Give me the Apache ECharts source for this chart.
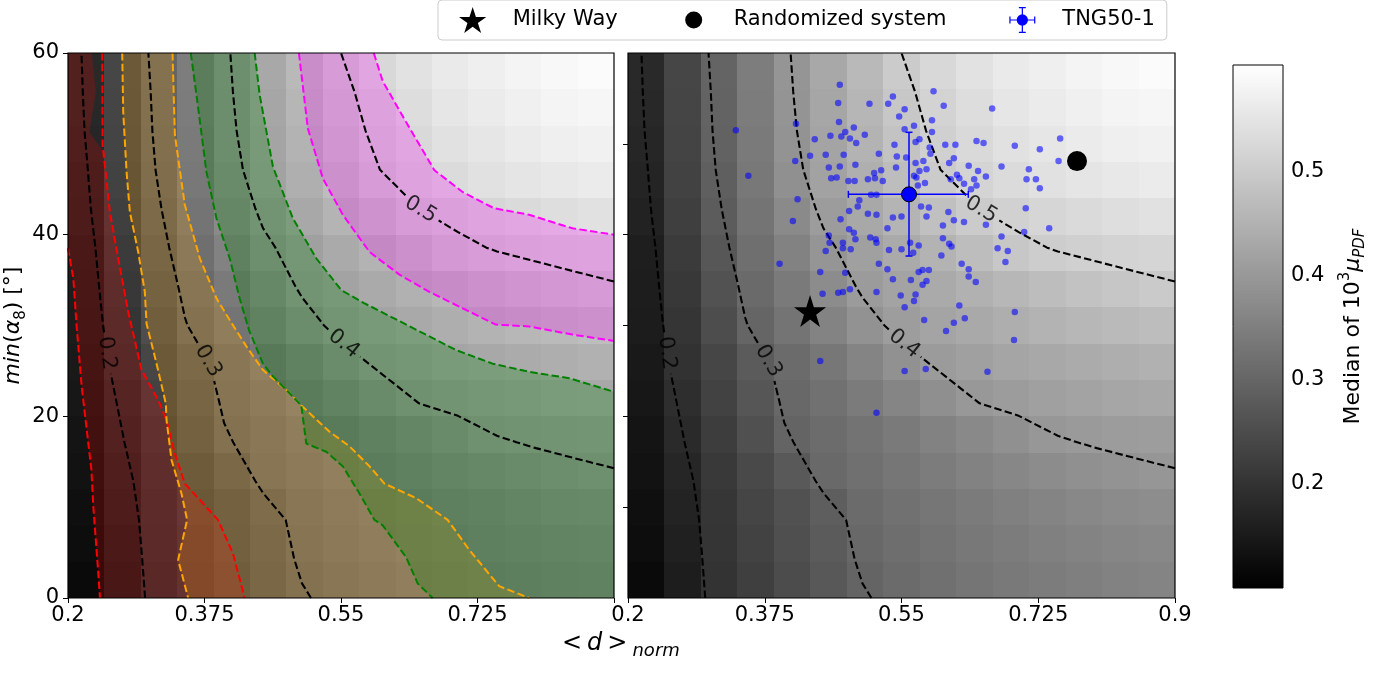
<!DOCTYPE html>
<html><head><meta charset="utf-8">
<script src="https://cdn.jsdelivr.net/npm/echarts@6/dist/echarts.min.js"></script>
<style>html,body{margin:0;padding:0;background:#fff}#c{width:1390px;height:673px}</style>
</head><body><div id="c"></div>
<script>
// ---------------- data ----------------
const dNormRange = [0.2, 0.9];
const alphaRange = [0, 60];
const xTickValues = [0.2, 0.375, 0.55, 0.725, 0.9];
const xTickLabelsLeft = [0.2, 0.375, 0.55, 0.725];
const yTickValuesLeft = [0, 20, 40, 60];
const yTickValuesRight = [10, 20, 30, 40, 50];
const colorRange = [0.1, 0.602];
const colorTicks = [0.2, 0.3, 0.4, 0.5];
const contourLevels = [0.2, 0.3, 0.4, 0.5];
const contourLabelAnchors = [[0.253, 27.0], [0.374, 25.8], [0.55, 27.6], [0.651, 42.6]];

// median of 10^3 mu_PDF, rows bottom (alpha=0) -> top (alpha=60), columns d=0.2 -> 0.9
const medianGrid = [
 [0.120,0.158,0.201,0.225,0.249,0.273,0.297,0.310,0.320,0.330,0.338,0.345,0.350,0.355,0.360],
 [0.125,0.163,0.204,0.230,0.255,0.280,0.305,0.316,0.327,0.337,0.345,0.352,0.358,0.363,0.367],
 [0.130,0.168,0.207,0.236,0.260,0.286,0.310,0.322,0.333,0.343,0.352,0.360,0.367,0.373,0.378],
 [0.135,0.175,0.212,0.244,0.275,0.306,0.320,0.333,0.345,0.356,0.366,0.375,0.383,0.390,0.395],
 [0.140,0.183,0.221,0.258,0.296,0.313,0.327,0.341,0.355,0.369,0.383,0.397,0.403,0.407,0.410],
 [0.145,0.190,0.230,0.269,0.304,0.323,0.342,0.362,0.381,0.400,0.408,0.415,0.421,0.426,0.430],
 [0.150,0.198,0.238,0.280,0.311,0.335,0.360,0.386,0.405,0.415,0.424,0.431,0.437,0.443,0.448],
 [0.155,0.205,0.252,0.298,0.329,0.357,0.387,0.410,0.422,0.433,0.443,0.452,0.460,0.467,0.473],
 [0.157,0.211,0.262,0.308,0.341,0.375,0.405,0.420,0.435,0.448,0.460,0.472,0.482,0.490,0.497],
 [0.160,0.217,0.272,0.319,0.356,0.393,0.415,0.434,0.453,0.472,0.492,0.503,0.510,0.516,0.520],
 [0.166,0.224,0.281,0.329,0.371,0.407,0.431,0.454,0.477,0.500,0.512,0.522,0.530,0.537,0.543],
 [0.170,0.229,0.288,0.337,0.383,0.418,0.445,0.473,0.500,0.518,0.532,0.542,0.550,0.556,0.562],
 [0.175,0.234,0.292,0.341,0.389,0.423,0.453,0.483,0.510,0.528,0.543,0.553,0.562,0.570,0.575],
 [0.178,0.236,0.294,0.344,0.392,0.427,0.459,0.492,0.515,0.535,0.552,0.563,0.572,0.580,0.585],
 [0.180,0.238,0.297,0.346,0.394,0.431,0.465,0.500,0.525,0.545,0.560,0.570,0.580,0.588,0.595]
];

// coloured bands (left panel), boundaries as [d, alpha]
const redLeft = [[0.2,38.5],[0.2068,35.2],[0.211,30.0],[0.2175,23.3],[0.230,14.1],[0.2324,10.1],[0.2388,2.75],[0.241,0]];
const redRight = [[0.2439,60],[0.2444,49.9],[0.2537,42.5],[0.2644,37.4],[0.2772,31.5],[0.2943,25.1],[0.3156,21.8],[0.3263,19.6],[0.337,15.9],[0.3497,12.6],[0.369,10.8],[0.3923,8.6],[0.4115,4.9],[0.4265,0]];
const redTopGap = [[0.2303,60],[0.2358,55.7],[0.2273,51.3],[0.2446,49.2]];
const orangeLeft = [[0.2695,60],[0.2708,53.5],[0.2751,46.9],[0.2793,42.5],[0.29,38.1],[0.2985,33.7],[0.3007,30.2],[0.3135,25.8],[0.3254,21.4],[0.3263,19.6],[0.3327,15.2],[0.3455,11.5],[0.3527,8.6],[0.3412,4.2],[0.354,0]];
const orangeRight = [[0.334,60],[0.337,51.0],[0.3497,43.3],[0.369,37.4],[0.3903,33.0],[0.4073,30.6],[0.4287,27.7],[0.4499,25.1],[0.4799,22.9],[0.4991,21.2],[0.5353,18.3],[0.5609,16.7],[0.5865,14.5],[0.6057,12.6],[0.6462,11.0],[0.6867,8.6],[0.7144,5.3],[0.7528,1.3],[0.7912,0]];
const greenLeft = [[0.3574,60],[0.3647,55.4],[0.3775,46.9],[0.3903,41.8],[0.4073,37.4],[0.42,33.0],[0.432,29.5],[0.4499,25.8],[0.4627,24.4],[0.4799,22.9],[0.4991,21.2],[0.5055,17.0],[0.5311,16.1],[0.5523,14.5],[0.5737,11.5],[0.5929,8.6],[0.6035,8.0],[0.6334,4.5],[0.6483,1.6],[0.6675,0]];
const greenRight = [[0.4393,60],[0.4457,55.4],[0.4627,47.5],[0.4883,41.8],[0.5183,37.4],[0.5503,33.9],[0.5788,32.5],[0.6313,30.2],[0.6633,28.8],[0.6974,27.3],[0.7443,25.8],[0.7912,24.9],[0.8424,24.2],[0.9,22.7]];
const magentaLeft = [[0.496,60],[0.5075,51.7],[0.5267,46.2],[0.5523,42.2],[0.5865,38.1],[0.6249,35.6],[0.6633,33.7],[0.7059,31.9],[0.7486,30.1],[0.7912,29.9],[0.8467,29.0],[0.9,28.3]];
const magentaRight = [[0.592,60],[0.6035,56.9],[0.6334,52.4],[0.6697,47.1],[0.7059,44.7],[0.7464,42.9],[0.7912,42.2],[0.8467,40.7],[0.9,40.0]];

// right panel points
const tngSampleX = [0.471,0.591,0.539,0.469,0.509,0.533,0.554,0.604,0.666,0.547,0.589,0.470,0.415,0.566,0.489,0.478,0.554,0.589,0.338,0.459,0.473,0.503,0.439,0.484,0.568,0.573,0.753,0.492,0.541,0.606,0.619,0.646,0.655,0.695,0.727,0.586,0.521,0.433,0.453,0.476,0.587,0.544,0.556,0.617,0.414,0.751,0.457,0.471,0.491,0.543,0.568,0.578,0.582,0.611,0.636,0.678,0.648,0.713,0.354,0.460,0.467,0.524,0.515,0.566,0.573,0.621,0.658,0.710,0.722,0.482,0.490,0.507,0.516,0.526,0.580,0.569,0.571,0.613,0.624,0.643,0.727,0.630,0.639,0.646,0.496,0.511,0.518,0.417,0.575,0.709,0.585,0.610,0.483,0.494,0.507,0.518,0.539,0.550,0.582,0.411,0.472,0.603,0.617,0.630,0.658,0.739,0.707,0.483,0.532,0.489,0.510,0.517,0.678,0.457,0.458,0.475,0.491,0.518,0.561,0.603,0.611,0.614,0.453,0.475,0.485,0.534,0.550,0.565,0.572,0.601,0.673,0.686,0.683,0.394,0.521,0.627,0.636,0.532,0.572,0.577,0.585,0.446,0.636,0.645,0.539,0.562,0.577,0.582,0.478,0.484,0.469,0.475,0.449,0.518,0.549,0.568,0.566,0.554,0.624,0.695,0.631,0.617,0.579,0.607,0.694,0.446,0.554,0.581,0.660,0.518];
const tngSampleY = [56.5,55.8,55.2,54.5,54.4,54.4,53.8,54.2,53.9,53.0,52.6,52.4,52.2,52.0,51.8,51.3,51.6,51.3,51.5,50.9,50.8,51.0,50.5,50.6,50.2,50.5,50.6,50.1,49.9,49.9,49.9,50.3,50.1,49.8,49.4,49.6,48.9,48.7,48.8,48.8,48.9,48.6,48.5,48.4,48.1,48.1,47.4,47.5,47.7,47.4,47.9,48.1,47.2,47.9,47.6,47.5,47.0,47.2,46.5,46.2,46.3,47.1,46.8,46.5,47.0,46.6,46.4,46.1,46.1,45.9,45.9,46.1,46.2,45.9,45.7,46.3,45.4,46.1,46.2,46.1,45.1,45.6,45.0,45.4,43.8,44.4,44.4,43.9,43.1,42.9,43.0,42.5,42.6,43.1,42.3,42.2,41.9,42.0,42.0,41.5,41.7,41.0,41.6,41.4,41.1,40.7,40.3,40.6,40.7,40.2,39.7,39.5,39.8,39.9,39.1,39.1,39.5,39.1,39.1,39.6,39.0,38.7,38.2,38.5,38.4,38.3,38.4,38.0,38.8,37.7,38.5,38.2,37.0,36.8,36.8,36.8,36.2,36.2,35.9,36.1,36.1,35.9,35.4,34.8,35.1,35.0,34.5,34.9,35.8,34.0,33.6,33.7,33.5,33.7,33.3,33.4,32.7,32.0,32.2,31.5,30.8,30.3,30.6,29.4,28.4,26.1,25.0,25.2,24.9,20.4];
const tngMedian = [0.5596, 44.44];
const tngXRange = [0.482, 0.6355];
const tngYRange = [37.65, 51.27];
const milkyWay = [0.433, 31.6];
const randomized = [0.7746, 48.1];

// ---------------- helpers ----------------
const FONT = 'DejaVu Sans';
const STAR = 'path://M50,0 L61.23,34.55 L97.55,34.55 L68.17,55.9 L79.39,90.45 L50,69.1 L20.61,90.45 L31.83,55.9 L2.45,34.55 L38.77,34.55 Z';
const SMALL_CIRCLE = 'path://M0,0 L0,0 M26,26 L26,26 M4.5,13 A8.5,8.5 0 1,1 21.5,13 A8.5,8.5 0 1,1 4.5,13 Z';
const ERRBAR = 'path://M0,14.3 H30 V15.7 H0 Z M14.3,0 H15.7 V30 H14.3 Z M0,11 H1.4 V19 H0 Z M28.6,11 H30 V19 H28.6 Z M11,0 H19 V1.4 H11 Z M11,28.6 H19 V30 H11 Z M8.5,15 A6.5,6.5 0 1,1 21.5,15 A6.5,6.5 0 1,1 8.5,15 Z';

function linspace(a, b, n) { const r = []; for (let i = 0; i < n; i++) r.push(a + (b - a) * i / (n - 1)); return r; }
const ny = medianGrid.length, nx = medianGrid[0].length;
const gx = linspace(dNormRange[0], dNormRange[1], nx);
const gy = linspace(alphaRange[0], alphaRange[1], ny);
const cw = (dNormRange[1] - dNormRange[0]) / nx, ch = (alphaRange[1] - alphaRange[0]) / ny;
const cells = [];
medianGrid.forEach((row, m) => row.forEach((v, k) => cells.push([dNormRange[0] + (k + 0.5) * cw, alphaRange[0] + (m + 0.5) * ch, v])));

function grayOf(v) {
  let t = (v - colorRange[0]) / (colorRange[1] - colorRange[0]);
  t = Math.max(0, Math.min(1, t));
  const g = Math.round(t * 255);
  return 'rgb(' + g + ',' + g + ',' + g + ')';
}

function contourLines(Z, xs, ys, level) {
  const pts = {}, adj = {};
  const ep = (id, xa, ya, va, xb, yb, vb) => { if (!pts[id]) { const t = (level - va) / (vb - va); pts[id] = [xa + t * (xb - xa), ya + t * (yb - ya)]; } return id; };
  const link = (a, b) => { (adj[a] = adj[a] || []).push(b); (adj[b] = adj[b] || []).push(a); };
  for (let m = 0; m < Z.length - 1; m++) for (let k = 0; k < Z[0].length - 1; k++) {
    const v00 = Z[m][k], v10 = Z[m][k + 1], v01 = Z[m + 1][k], v11 = Z[m + 1][k + 1];
    const ids = [];
    if ((v00 >= level) !== (v10 >= level)) ids.push(ep('h' + m + '_' + k, xs[k], ys[m], v00, xs[k + 1], ys[m], v10));
    if ((v10 >= level) !== (v11 >= level)) ids.push(ep('v' + m + '_' + (k + 1), xs[k + 1], ys[m], v10, xs[k + 1], ys[m + 1], v11));
    if ((v01 >= level) !== (v11 >= level)) ids.push(ep('h' + (m + 1) + '_' + k, xs[k], ys[m + 1], v01, xs[k + 1], ys[m + 1], v11));
    if ((v00 >= level) !== (v01 >= level)) ids.push(ep('v' + m + '_' + k, xs[k], ys[m], v00, xs[k], ys[m + 1], v01));
    if (ids.length === 2) link(ids[0], ids[1]);
    else if (ids.length === 4) {
      const c = (v00 + v10 + v01 + v11) / 4;
      if ((c >= level) === (v00 >= level)) { link(ids[0], ids[1]); link(ids[2], ids[3]); }
      else { link(ids[0], ids[3]); link(ids[1], ids[2]); }
    }
  }
  const used = new Set(), lines = [];
  const starts = Object.keys(adj).filter(id => adj[id].length === 1).concat(Object.keys(adj));
  for (const s of starts) {
    if (used.has(s)) continue;
    const line = [s]; used.add(s);
    let cur = s;
    while (true) {
      const nxt = (adj[cur] || []).find(n => !used.has(n));
      if (!nxt) break;
      line.push(nxt); used.add(nxt); cur = nxt;
    }
    lines.push(line.map(id => pts[id]));
  }
  return lines;
}

function placeLabel(lines, anchor, gapPx, W, H) {
  const sx = W / (dNormRange[1] - dNormRange[0]), sy = H / (alphaRange[1] - alphaRange[0]);
  const toPx = p => [(p[0] - dNormRange[0]) * sx, (p[1] - alphaRange[0]) * sy];
  const A = toPx(anchor);
  let best = null;
  lines.forEach((line, li) => {
    const P = line.map(toPx); let cum = 0;
    for (let i = 0; i < P.length - 1; i++) {
      const dx = P[i + 1][0] - P[i][0], dy = P[i + 1][1] - P[i][1], L = Math.hypot(dx, dy);
      if (L === 0) continue;
      let t = ((A[0] - P[i][0]) * dx + (A[1] - P[i][1]) * dy) / (L * L);
      t = Math.max(0, Math.min(1, t));
      const d = Math.hypot(A[0] - (P[i][0] + t * dx), A[1] - (P[i][1] + t * dy));
      if (!best || d < best.d) best = { d, li, s: cum + t * L, angle: Math.atan2(dy, dx) * 180 / Math.PI };
      cum += L;
    }
  });
  const out = []; let pos = anchor;
  lines.forEach((line, li) => {
    if (!best || li !== best.li) { out.push(line); return; }
    const P = line.map(toPx), cum = [0];
    for (let i = 1; i < P.length; i++) cum.push(cum[i - 1] + Math.hypot(P[i][0] - P[i - 1][0], P[i][1] - P[i - 1][1]));
    const at = s => {
      for (let i = 1; i < P.length; i++) if (cum[i] >= s) { const L = cum[i] - cum[i - 1]; const t = L ? (s - cum[i - 1]) / L : 0; return [line[i - 1][0] + t * (line[i][0] - line[i - 1][0]), line[i - 1][1] + t * (line[i][1] - line[i - 1][1])]; }
      return line[line.length - 1];
    };
    const s1 = best.s - gapPx, s2 = best.s + gapPx, a = [], b = [];
    line.forEach((p, i) => { if (cum[i] < s1) a.push(p); });
    if (s1 > 0) a.push(at(s1));
    if (s2 < cum[cum.length - 1]) b.push(at(s2));
    line.forEach((p, i) => { if (cum[i] > s2) b.push(p); });
    if (a.length > 1) out.push(a);
    if (b.length > 1) out.push(b);
    pos = at(best.s);
  });
  let ang = best ? best.angle : 0;
  if (ang > 90) ang -= 180; if (ang < -90) ang += 180;
  return { lines: out, pos, angle: ang };
}

// ---------------- series builders ----------------
function heatSeries(gi) {
  return { type: 'custom', xAxisIndex: gi, yAxisIndex: gi, data: cells, z: 1, silent: true, clip: true,
    renderItem(params, api) {
      const xc = api.value(0), yc = api.value(1), v = api.value(2);
      const p0 = api.coord([xc - cw / 2, yc - ch / 2]), p1 = api.coord([xc + cw / 2, yc + ch / 2]);
      const x0 = Math.round(p0[0]), x1 = Math.round(p1[0]), y0 = Math.round(p1[1]), y1 = Math.round(p0[1]);
      return { type: 'rect', shape: { x: x0, y: y0, width: x1 - x0, height: y1 - y0 }, style: { fill: grayOf(v) } };
    } };
}
function polySeries(gi, poly, fill) {
  return { type: 'custom', xAxisIndex: gi, yAxisIndex: gi, data: [poly[0]], z: 2, silent: true, clip: true,
    renderItem(params, api) { return { type: 'polygon', shape: { points: poly.map(p => api.coord(p)) }, style: { fill } }; } };
}
function lineSeries(gi, pts, color, width, z) {
  return { type: 'line', xAxisIndex: gi, yAxisIndex: gi, data: pts, symbol: 'none', silent: true, z,
    lineStyle: { color, width, type: [7.5, 3.3] } };
}
function frameSeries(gi) {
  return { type: 'custom', xAxisIndex: gi, yAxisIndex: gi, data: [[dNormRange[0], alphaRange[0]]], z: 20, silent: true, clip: false,
    renderItem(params, api) {
      const a = api.coord([dNormRange[0], alphaRange[0]]), b = api.coord([dNormRange[1], alphaRange[1]]);
      return { type: 'rect', shape: { x: a[0], y: b[1], width: b[0] - a[0], height: a[1] - b[1] }, style: { fill: null, stroke: '#000', lineWidth: 1.2 } };
    } };
}

const series = [];
const panelW = [546, 547], panelH = 545;

const contourData = [0, 1].map(gi => contourLevels.map((lev, i) => {
  const lines = contourLines(medianGrid, gx, gy, lev);
  const r = placeLabel(lines, contourLabelAnchors[i], 21, panelW[gi], panelH);
  r.text = String(lev);
  return r;
}));

const bands = [
  { color: 'rgba(255,0,0,0.2)', line: '#ff0000', edges: [redLeft, redRight],
    fill: [[dNormRange[0], alphaRange[1]]].concat(redTopGap, redRight.filter(p => p[1] < redTopGap[redTopGap.length - 1][1]), redLeft.slice().reverse()) },
  { color: 'rgba(255,165,0,0.2)', line: '#ffa500', edges: [orangeLeft, orangeRight],
    fill: orangeLeft.concat(orangeRight.slice().reverse()) },
  { color: 'rgba(0,128,0,0.26)', line: '#008000', edges: [greenLeft, greenRight],
    fill: greenLeft.concat([[dNormRange[1], alphaRange[0]]], greenRight.slice().reverse()) },
  { color: 'rgba(255,0,255,0.23)', line: '#ff00ff', edges: [magentaLeft, magentaRight],
    fill: magentaLeft.concat(magentaRight.slice().reverse()) }
];

[0, 1].forEach(gi => {
  series.push(heatSeries(gi));
  if (gi === 0) {
    bands.forEach(b => series.push(polySeries(0, b.fill, b.color)));
    bands.forEach(b => b.edges.forEach(e => series.push(lineSeries(0, e, b.line, 2, 3))));
  }
  contourData[gi].forEach(c => c.lines.forEach(l => series.push(lineSeries(gi, l, '#000', 2.1, 4))));
  series.push({ type: 'scatter', xAxisIndex: gi, yAxisIndex: gi, z: 6, silent: true, symbolSize: 1,
    itemStyle: { color: 'rgba(0,0,0,0)' },
    label: { show: true, position: 'inside', color: '#000', fontSize: 21, fontFamily: FONT },
    data: contourData[gi].map(c => ({ value: c.pos, label: { formatter: c.text, rotate: c.angle } })) });
  series.push(frameSeries(gi));
});

// right panel markers
series.push({ type: 'scatter', name: 'TNG50-1 sample', xAxisIndex: 1, yAxisIndex: 1, z: 7, silent: true,
  symbolSize: 6.5, itemStyle: { color: 'rgba(0,0,255,0.58)', opacity: 1 },
  data: tngSampleX.map((x, i) => [x, tngSampleY[i]]) });
series.push({ type: 'custom', name: 'TNG50-1 errors', xAxisIndex: 1, yAxisIndex: 1, z: 8, silent: true,
  data: [[tngMedian[0], tngMedian[1], tngXRange[0], tngXRange[1], tngYRange[0], tngYRange[1]]],
  renderItem(params, api) {
    const x = api.value(0), y = api.value(1);
    const l = api.coord([api.value(2), y]), r = api.coord([api.value(3), y]);
    const b = api.coord([x, api.value(4)]), t = api.coord([x, api.value(5)]);
    const st = { stroke: '#0000ff', lineWidth: 1.5 }, c = 3.5;
    const ln = (x1, y1, x2, y2) => ({ type: 'line', shape: { x1, y1, x2, y2 }, style: st });
    return { type: 'group', children: [
      ln(l[0], l[1], r[0], r[1]), ln(b[0], b[1], t[0], t[1]),
      ln(l[0], l[1] - c, l[0], l[1] + c), ln(r[0], r[1] - c, r[0], r[1] + c),
      ln(b[0] - c, b[1], b[0] + c, b[1]), ln(t[0] - c, t[1], t[0] + c, t[1])
    ] };
  } });
series.push({ type: 'scatter', name: 'TNG50-1', xAxisIndex: 1, yAxisIndex: 1, z: 9, symbol: 'circle', symbolSize: 15,
  itemStyle: { color: '#0000ff', borderColor: '#000', borderWidth: 1, opacity: 1 }, data: [tngMedian] });
series.push({ type: 'scatter', name: 'Milky Way', xAxisIndex: 1, yAxisIndex: 1, z: 9, symbol: STAR, symbolSize: 32,
  itemStyle: { color: '#000', opacity: 1 }, data: [milkyWay] });
series.push({ type: 'scatter', name: 'Randomized system', xAxisIndex: 1, yAxisIndex: 1, z: 9, symbol: 'circle', symbolSize: 20,
  itemStyle: { color: '#000', opacity: 1 }, data: [randomized] });

// colorbar
series.push({ type: 'custom', xAxisIndex: 2, yAxisIndex: 2, silent: true, z: 2, data: [[0, colorRange[0]]],
  renderItem(params, api) {
    const a = api.coord([0, colorRange[0]]), b = api.coord([1, colorRange[1]]);
    return { type: 'rect', shape: { x: a[0], y: b[1], width: b[0] - a[0], height: a[1] - b[1] },
      style: { fill: new echarts.graphic.LinearGradient(0, 0, 0, 1, [{ offset: 0, color: '#ffffff' }, { offset: 1, color: '#000000' }]), stroke: '#000', lineWidth: 1 } };
  } });

const tickStyle = { show: true, length: 5, lineStyle: { color: '#000', width: 1 } };
const labStyle = { color: '#000', fontSize: 21, fontFamily: FONT };

const option = {
  animation: false,
  backgroundColor: '#fff',
  title: { text: '{a|<} {d|d} {a|>}{s|norm}', left: 562, top: 628, padding: 0,
    textStyle: { fontWeight: 'normal', rich: {
      a: { fontSize: 24, fontFamily: FONT, color: '#000', fontWeight: 'normal', lineHeight: 32 },
      d: { fontSize: 24, fontFamily: FONT, color: '#000', fontWeight: 'normal', fontStyle: 'italic', lineHeight: 32 },
      s: { fontSize: 18, fontFamily: FONT, color: '#000', fontWeight: 'normal', fontStyle: 'italic', lineHeight: 18, verticalAlign: 'bottom', padding: [0, 0, 0, 5] }
    } } },
  legend: { left: 438, top: 0, padding: [7, 12, 7, 21], itemGap: 63, itemWidth: 70, itemHeight: 26,
    borderColor: '#cccccc', borderWidth: 1, borderRadius: 4, backgroundColor: '#fff', selectedMode: false,
    textStyle: { fontSize: 21, color: '#000', fontFamily: FONT },
    data: [
      { name: 'Milky Way', icon: STAR, itemStyle: { color: '#000', opacity: 1, borderWidth: 0 } },
      { name: 'Randomized system', icon: SMALL_CIRCLE, itemStyle: { color: '#000', opacity: 1, borderWidth: 0 } },
      { name: 'TNG50-1', icon: ERRBAR, itemStyle: { color: '#0000ff', opacity: 1, borderWidth: 0 } }
    ] },
  grid: [
    { left: 68, top: 53, width: 546, height: 545 },
    { left: 628, top: 53, width: 547, height: 545 },
    { left: 1233, top: 65, width: 50, height: 523 }
  ],
  xAxis: [
    { type: 'value', gridIndex: 0, min: dNormRange[0], max: dNormRange[1], splitLine: { show: false }, axisLine: { show: false },
      axisTick: Object.assign({ customValues: xTickValues }, tickStyle),
      axisLabel: Object.assign({ customValues: xTickLabelsLeft, margin: 7 }, labStyle) },
    { type: 'value', gridIndex: 1, min: dNormRange[0], max: dNormRange[1], splitLine: { show: false }, axisLine: { show: false },
      axisTick: Object.assign({ customValues: xTickValues }, tickStyle),
      axisLabel: Object.assign({ customValues: xTickValues, margin: 7 }, labStyle) },
    { type: 'value', gridIndex: 2, min: 0, max: 1, show: false }
  ],
  yAxis: [
    { type: 'value', gridIndex: 0, min: alphaRange[0], max: alphaRange[1], splitLine: { show: false }, axisLine: { show: false },
      axisTick: Object.assign({ customValues: yTickValuesLeft }, tickStyle),
      axisLabel: Object.assign({ customValues: yTickValuesLeft, margin: 9 }, labStyle),
      name: '{it|min}{n|(}{it|α}{sub|8}{n|) [°]}', nameLocation: 'middle', nameRotate: 90, nameGap: 22,
      nameTextStyle: { color: '#000', rich: {
        it: { fontSize: 22, fontFamily: FONT, fontStyle: 'italic', color: '#000', lineHeight: 30 },
        n: { fontSize: 22, fontFamily: FONT, color: '#000', lineHeight: 30 },
        sub: { fontSize: 15, fontFamily: FONT, color: '#000', lineHeight: 15, verticalAlign: 'bottom' }
      } } },
    { type: 'value', gridIndex: 1, min: alphaRange[0], max: alphaRange[1], splitLine: { show: false }, axisLine: { show: false },
      axisTick: Object.assign({ customValues: yTickValuesRight }, tickStyle),
      axisLabel: { show: false } },
    { type: 'value', gridIndex: 2, position: 'right', min: colorRange[0], max: colorRange[1], splitLine: { show: false }, axisLine: { show: false },
      axisTick: Object.assign({ customValues: colorTicks }, tickStyle),
      axisLabel: Object.assign({ customValues: colorTicks, margin: 8, formatter: v => v.toFixed(1) }, labStyle),
      name: '{n|Median of 10}{sup|3}{it|μ}{sub|PDF}', nameLocation: 'middle', nameRotate: 90, nameGap: 55,
      nameTextStyle: { color: '#000', rich: {
        n: { fontSize: 22, fontFamily: FONT, color: '#000', lineHeight: 30 },
        it: { fontSize: 22, fontFamily: FONT, fontStyle: 'italic', color: '#000', lineHeight: 30 },
        sup: { fontSize: 15, fontFamily: FONT, color: '#000', lineHeight: 15, verticalAlign: 'top' },
        sub: { fontSize: 15, fontFamily: FONT, fontStyle: 'italic', color: '#000', lineHeight: 15, verticalAlign: 'bottom' }
      } } }
  ],
  series
};

const chart = echarts.init(document.getElementById('c'), null, { renderer: 'canvas', width: 1390, height: 673 });
chart.setOption(option);
</script>
</body></html>
